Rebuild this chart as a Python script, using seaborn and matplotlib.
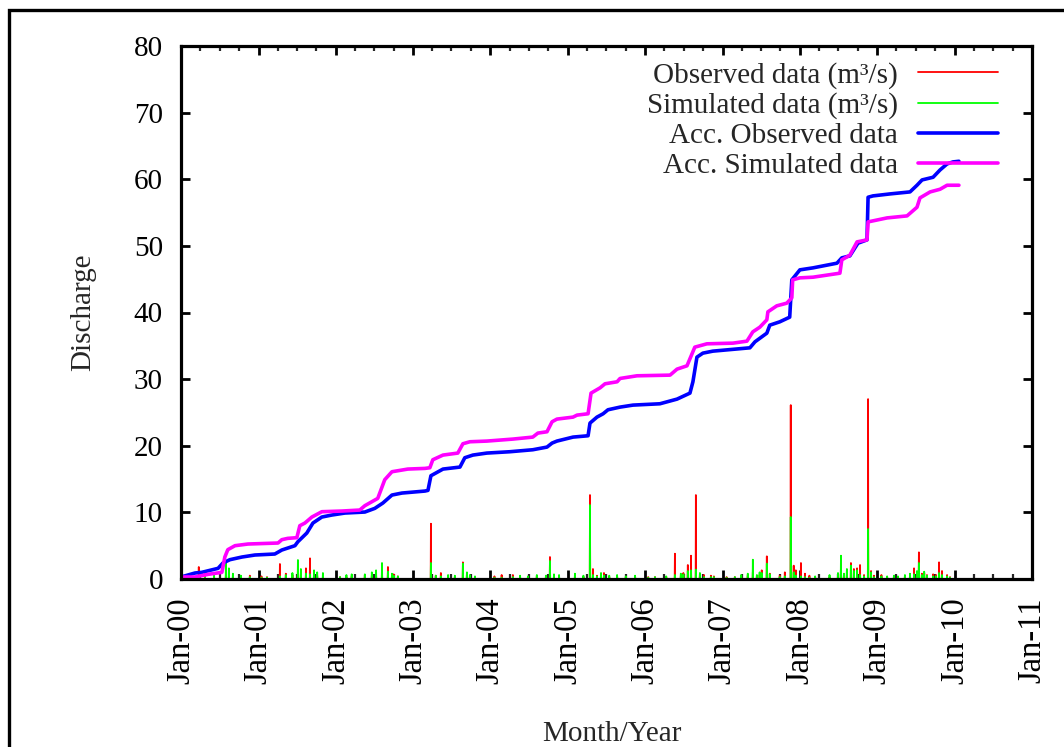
import numpy as np
import pandas as pd
import matplotlib
matplotlib.use("Agg")
import matplotlib.pyplot as plt
from matplotlib.patches import Rectangle
import seaborn as sns

# ---- daily discharge events (m3/s): date, observed, simulated ----
event_dates = [
    "2000-03-25", "2000-04-23", "2000-07-31", "2000-08-14", "2000-09-02", "2000-11-21",
    "2001-02-10", "2001-04-12", "2001-05-10", "2001-07-06", "2001-07-20", "2001-08-13",
    "2001-09-01", "2001-09-20", "2001-11-01", "2002-01-21", "2002-03-17", "2002-05-18",
    "2002-06-20", "2002-08-07", "2002-09-04", "2002-09-23", "2002-10-21", "2003-03-26",
    "2003-04-18", "2003-05-12", "2003-07-17", "2003-08-24", "2003-09-12", "2003-09-26",
    "2004-02-23", "2004-04-16", "2004-06-26", "2004-08-07", "2004-09-19", "2004-10-08",
    "2004-10-27", "2005-02-03", "2005-04-15", "2005-04-29", "2005-05-18", "2005-06-06",
    "2005-06-20", "2005-08-21", "2005-11-14", "2006-02-16", "2006-05-21", "2006-06-18",
    "2006-07-21", "2006-08-05", "2006-08-28", "2006-09-16", "2006-10-05", "2006-11-07",
    "2006-11-21", "2007-02-28", "2007-04-30", "2007-05-24", "2007-06-12", "2007-07-05",
    "2007-07-29", "2007-08-12", "2007-09-28", "2007-10-22", "2007-11-19", "2007-12-03",
    "2007-12-13", "2008-01-06", "2008-01-25", "2008-03-13", "2008-06-29", "2008-07-13",
    "2008-07-27", "2008-08-29", "2008-09-12", "2008-09-27", "2008-10-11", "2008-10-30",
    "2008-11-18", "2008-12-02", "2008-12-16", "2009-02-16", "2009-04-08", "2009-05-11",
    "2009-06-04", "2009-06-23", "2009-07-07", "2009-07-16", "2009-07-30", "2009-08-23",
    "2009-09-21", "2009-10-19", "2009-11-02", "2009-11-26",
]
observed_flow = [
    1.8, 0.8, 0.6, 0.4, 0.3, 0.5,
    0.3, 2.25, 0.8, 1.4, 0.8, 1.6,
    3.1, 0.8, 0.3, 0.3, 0.4, 0.6,
    0.5, 1.2, 1.8, 0.5, 0.4, 8.3,
    0.5, 0.9, 0.3, 2.5, 0.8, 0.4,
    0.6, 0.6, 0.3, 0.4, 0.4, 3.3,
    0.4, 0.3, 12.6, 1.5, 0.5, 0.8,
    0.9, 0.4, 0.3, 0.3, 3.8, 0.5,
    2.1, 3.5, 12.6, 0.8, 0.6, 0.5,
    0.4, 0.3, 0.5, 1.0, 0.5, 1.3,
    3.4, 0.8, 0.5, 1.0, 26.1, 2.0,
    1.3, 2.4, 0.8, 0.3, 0.6, 2.0,
    0.6, 2.4, 1.5, 1.6, 2.1, 0.6,
    27.0, 1.2, 0.5, 0.3, 0.3, 0.4,
    0.6, 1.6, 1.0, 4.0, 0.8, 0.6,
    0.7, 2.5, 1.2, 0.6,
]
simulated_flow = [
    0.3, 0.2, 2.4, 1.6, 0.8, 0.3,
    0.2, 0.4, 0.6, 2.85, 1.5, 0.8,
    0.7, 1.3, 0.9, 0.3, 0.7, 0.7,
    1.0, 2.4, 1.1, 0.8, 0.4, 2.4,
    0.5, 0.4, 0.5, 2.3, 1.0, 0.6,
    0.2, 0.3, 0.4, 0.6, 0.5, 2.7,
    0.7, 0.8, 11.1, 0.6, 0.4, 0.9,
    0.5, 0.6, 0.5, 0.3, 0.6, 0.8,
    1.2, 1.3, 1.4, 0.9, 0.3, 0.3,
    0.3, 0.3, 0.8, 2.9, 0.6, 0.9,
    2.3, 0.7, 0.3, 0.4, 9.3, 1.0,
    0.5, 0.4, 0.3, 0.4, 0.9, 3.5,
    0.8, 2.0, 1.2, 1.3, 0.6, 0.4,
    7.5, 1.0, 0.3, 0.4, 0.4, 0.6,
    0.8, 0.7, 1.2, 2.4, 0.6, 0.5,
    0.4, 0.9, 0.6, 0.4,
]

# smaller freshets between the main events
minor_dates = [
    "2000-02-10", "2000-06-05", "2000-10-10", "2001-01-15", "2001-06-10", "2001-10-05",
    "2002-02-20", "2002-07-10", "2002-10-01", "2003-06-15", "2003-10-20", "2004-01-20",
    "2004-05-20", "2004-11-20", "2005-03-15", "2005-07-15", "2005-10-01", "2006-01-15",
    "2006-04-10", "2006-06-30", "2007-01-20", "2007-03-30", "2007-06-25", "2008-02-15",
    "2008-05-20", "2008-08-10", "2009-01-20", "2009-03-20", "2009-08-10", "2009-10-05",
    "2009-12-10",
]
minor_observed = [
    0.5, 0.4, 0.3, 0.4, 0.6, 0.5,
    0.3, 0.6, 0.7, 0.2, 0.3, 0.4,
    0.3, 0.3, 0.3, 0.3, 0.2, 0.3,
    0.3, 0.9, 0.3, 0.3, 0.6, 0.5,
    0.3, 1.0, 0.6, 0.3, 0.9, 0.6,
    0.3,
]
minor_simulated = [
    0.2, 0.6, 0.5, 0.2, 0.9, 1.0,
    0.6, 1.3, 0.5, 0.6, 0.4, 0.2,
    0.5, 0.6, 0.5, 0.5, 0.4, 0.2,
    0.4, 0.7, 0.2, 0.6, 1.0, 0.2,
    0.6, 1.5, 0.4, 0.5, 1.1, 0.4,
    0.2,
]

# ---- accumulated discharge ----
acc_obs_dates = [
    "2000-01-01", "2000-03-07", "2000-04-08", "2000-06-24", "2000-07-17", "2000-08-19",
    "2000-10-15", "2000-12-15", "2001-03-19", "2001-04-21", "2001-06-22", "2001-07-06",
    "2001-08-17", "2001-09-15", "2001-10-27", "2001-12-13", "2002-02-13", "2002-05-18",
    "2002-07-04", "2002-08-11", "2002-09-23", "2002-11-09", "2003-02-26", "2003-03-12",
    "2003-03-26", "2003-05-22", "2003-08-10", "2003-09-02", "2003-10-10", "2003-12-15",
    "2004-04-01", "2004-07-19", "2004-09-24", "2004-10-18", "2004-11-10", "2005-01-25",
    "2005-04-06", "2005-04-15", "2005-05-18", "2005-06-16", "2005-07-09", "2005-09-04",
    "2005-11-04", "2006-03-11", "2006-05-31", "2006-07-31", "2006-08-14", "2006-09-02",
    "2006-09-30", "2006-11-16", "2007-05-10", "2007-06-03", "2007-07-29", "2007-08-12",
    "2007-09-28", "2007-11-14", "2007-11-24", "2008-01-01", "2008-03-03", "2008-06-24",
    "2008-07-17", "2008-08-24", "2008-10-01", "2008-11-13", "2008-11-18", "2008-12-11",
    "2009-03-02", "2009-06-04", "2009-07-07", "2009-07-31", "2009-09-21", "2009-10-24",
    "2009-11-26", "2009-12-24", "2010-01-21",
]
acc_obs_values = [
    0.3, 0.9, 1.0, 1.6, 2.4, 2.9,
    3.3, 3.6, 3.75, 4.35, 5.0, 5.6,
    6.9, 8.4, 9.3, 9.6, 9.9, 10.05,
    10.6, 11.4, 12.6, 12.9, 13.2, 13.3,
    15.5, 16.5, 16.8, 18.2, 18.6, 18.9,
    19.1, 19.4, 19.8, 20.4, 20.7, 21.3,
    21.5, 23.4, 24.3, 24.8, 25.4, 25.8,
    26.1, 26.3, 27.0, 27.9, 29.6, 33.3,
    33.9, 34.2, 34.7, 35.6, 36.9, 38.1,
    38.6, 39.3, 44.9, 46.4, 46.7, 47.4,
    48.2, 48.5, 50.4, 50.9, 57.3, 57.5,
    57.8, 58.1, 59.1, 59.9, 60.3, 61.4,
    62.3, 62.6, 62.7,
]
acc_sim_dates = [
    "2000-01-01", "2000-03-07", "2000-05-08", "2000-07-12", "2000-07-26", "2000-08-09",
    "2000-09-12", "2000-11-12", "2001-04-03", "2001-04-21", "2001-05-19", "2001-07-01",
    "2001-07-15", "2001-08-08", "2001-09-10", "2001-10-27", "2002-01-30", "2002-04-24",
    "2002-05-18", "2002-07-18", "2002-08-20", "2002-09-23", "2002-12-07", "2003-02-26",
    "2003-03-21", "2003-04-04", "2003-05-22", "2003-07-31", "2003-08-24", "2003-09-26",
    "2003-12-15", "2004-04-16", "2004-07-19", "2004-08-12", "2004-09-24", "2004-10-18",
    "2004-11-10", "2005-01-25", "2005-02-13", "2005-04-06", "2005-04-20", "2005-06-02",
    "2005-06-25", "2005-08-21", "2005-09-04", "2005-11-23", "2006-04-28", "2006-05-31",
    "2006-07-17", "2006-08-23", "2006-10-19", "2007-02-19", "2007-04-26", "2007-05-24",
    "2007-06-26", "2007-07-29", "2007-08-03", "2007-09-14", "2007-10-31", "2007-11-24",
    "2007-11-28", "2008-01-01", "2008-03-03", "2008-07-08", "2008-07-17", "2008-08-24",
    "2008-09-27", "2008-11-13", "2008-11-18", "2009-02-16", "2009-05-21", "2009-07-07",
    "2009-07-21", "2009-09-07", "2009-10-24", "2009-11-26", "2010-01-21",
]
acc_sim_values = [
    0.3, 0.3, 0.7, 1.0, 3.3, 4.4,
    5.0, 5.25, 5.4, 5.9, 6.1, 6.2,
    8.0, 8.4, 9.3, 10.1, 10.2, 10.35,
    11.0, 12.1, 14.9, 16.1, 16.5, 16.6,
    16.7, 17.9, 18.6, 18.9, 20.3, 20.6,
    20.7, 21.0, 21.3, 21.9, 22.1, 23.6,
    24.0, 24.3, 24.6, 24.8, 27.9, 28.7,
    29.3, 29.6, 30.1, 30.5, 30.6, 31.5,
    32.0, 34.8, 35.3, 35.4, 35.7, 37.1,
    37.8, 38.9, 40.1, 41.0, 41.4, 42.2,
    44.9, 45.2, 45.3, 45.9, 47.9, 48.6,
    50.6, 50.9, 53.6, 54.2, 54.5, 55.8,
    57.2, 58.1, 58.5, 59.1, 59.1,
]

series_labels = [
    "Observed data (m³/s)",
    "Simulated data (m³/s)",
    "Acc. Observed data",
    "Acc. Simulated data",
]
series_colors = ["#ff0000", "#00ff00", "#0000ff", "#ff00ff"]

x_tick_dates = [f"{y}-01-01" for y in range(2000, 2012)]
x_tick_labels = ["Jan-00", "Jan-01", "Jan-02", "Jan-03", "Jan-04", "Jan-05",
                 "Jan-06", "Jan-07", "Jan-08", "Jan-09", "Jan-10", "Jan-11"]
y_ticks = [0, 10, 20, 30, 40, 50, 60, 70, 80]

# ---- style ----
sns.set_theme(style="ticks")
plt.rcParams["font.family"] = ["Liberation Serif", "DejaVu Serif"]
FS = 21

W, H = 1064, 747
fig = plt.figure(figsize=(W / 100, H / 100), dpi=100)
fig.patch.set_facecolor("white")
ax = fig.add_axes([181 / W, 1 - 579 / H, (1032 - 181) / W, (579 - 46) / H])
ax.set_facecolor("white")

# daily series: zero flow except on the recorded event days
days = pd.date_range("2000-01-01", "2010-01-21", freq="D")
daily = pd.DataFrame({"date": days, "observed": 0.0, "simulated": 0.0}).set_index("date")
for dates, obs, sim in ((event_dates, observed_flow, simulated_flow),
                        (minor_dates, minor_observed, minor_simulated)):
    idx = pd.to_datetime(dates)
    daily.loc[idx, "observed"] = obs
    daily.loc[idx, "simulated"] = sim
daily = daily.reset_index()

acc_obs = pd.DataFrame({"date": pd.to_datetime(acc_obs_dates), "value": acc_obs_values})
acc_sim = pd.DataFrame({"date": pd.to_datetime(acc_sim_dates), "value": acc_sim_values})

sns.lineplot(data=daily, x="date", y="observed", color=series_colors[0], lw=1.3,
             estimator=None, label=series_labels[0], ax=ax)
sns.lineplot(data=daily, x="date", y="simulated", color=series_colors[1], lw=1.3,
             estimator=None, label=series_labels[1], ax=ax)
sns.lineplot(data=acc_obs, x="date", y="value", color=series_colors[2], lw=2.6,
             estimator=None, label=series_labels[2], ax=ax)
sns.lineplot(data=acc_sim, x="date", y="value", color=series_colors[3], lw=2.6,
             estimator=None, label=series_labels[3], ax=ax)

# ---- axes ----
ax.set_xlim(pd.Timestamp("2000-01-01"), pd.Timestamp("2011-01-01"))
ax.set_ylim(0, 80)
ax.set_xticks(pd.to_datetime(x_tick_dates), labels=x_tick_labels)
quarter_ticks = [pd.Timestamp(f"{y}-{m:02d}-01") for y in range(2000, 2011) for m in (4, 7, 10)]
ax.set_xticks(quarter_ticks, minor=True)
ax.set_yticks(y_ticks, labels=[str(v) for v in y_ticks])

for s in ax.spines.values():
    s.set_linewidth(2.3)
    s.set_color("black")
    s.set_visible(True)

ax.tick_params(axis="both", which="major", direction="in", length=6.5, width=2.0,
               top=True, right=True, labelsize=FS, pad=13, colors="black")
ax.tick_params(axis="x", which="major", labelsize=23.5, labelrotation=90)
ax.tick_params(axis="x", which="minor", direction="in", length=3.5, width=1.6,
               top=True, bottom=True)

ax.set_xlabel("Month/Year", fontsize=FS)
ax.set_ylabel("Discharge", fontsize=FS)
ax.xaxis.set_label_coords(0.5065, -0.2664)
ax.yaxis.set_label_coords(-0.100, 0.5)

leg = ax.legend(loc="upper right", bbox_to_anchor=(0.960, 0.970), frameon=False,
                markerfirst=False, fontsize=FS, handlelength=2.75, handletextpad=0.69,
                labelspacing=0.12, borderpad=0, borderaxespad=0)

# outer frame of the figure
fig.add_artist(Rectangle((9 / W, -0.5), 2.0, 0.5 + 1 - 10 / H, transform=fig.transFigure,
                         fill=False, lw=2.4, ec="black", clip_on=False))

fig.savefig("out.png", dpi=100, facecolor="white")
